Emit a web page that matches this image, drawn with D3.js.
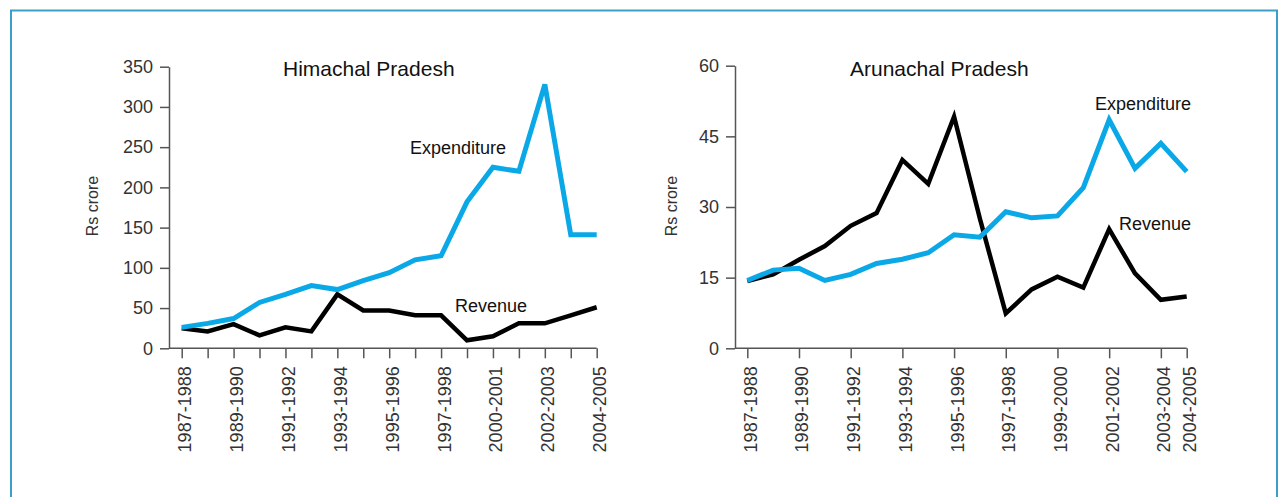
<!DOCTYPE html>
<html>
<head>
<meta charset="utf-8">
<script src="https://cdn.jsdelivr.net/npm/d3@7"></script>
<style>
  html, body { margin: 0; padding: 0; background: #fff; }
  svg { display: block; }
  text { font-family: "Liberation Sans", Arial, sans-serif; }
</style>
</head>
<body>
<svg id="chart" width="1282" height="497"></svg>
<script>
// ---------- Data ----------
const hpYears = ["1987-1988","1988-1989","1989-1990","1990-1991","1991-1992","1992-1993","1993-1994","1994-1995","1995-1996","1996-1997","1997-1998","1999-2000","2000-2001","2001-2002","2002-2003","2003-2004","2004-2005"];
const hpLabeled = ["1987-1988","1989-1990","1991-1992","1993-1994","1995-1996","1997-1998","2000-2001","2002-2003","2004-2005"];
const hpExpenditure = [26, 31, 37, 57, 67, 78, 73, 84, 94, 110, 115, 182, 225, 220, 328, 141, 141];
const hpRevenue     = [25, 21, 30, 16, 26, 21, 67, 47, 47, 41, 41, 10, 15, 31, 31, 41, 51];
const hpTicks = [0, 50, 100, 150, 200, 250, 300, 350];

const apYears = ["1987-1988","1988-1989","1989-1990","1990-1991","1991-1992","1992-1993","1993-1994","1994-1995","1995-1996","1996-1997","1997-1998","1998-1999","1999-2000","2000-2001","2001-2002","2002-2003","2003-2004","2004-2005"];
const apLabeled = ["1987-1988","1989-1990","1991-1992","1993-1994","1995-1996","1997-1998","1999-2000","2001-2002","2003-2004","2004-2005"];
const apExpenditure = [14.4, 16.6, 17.0, 14.4, 15.7, 18.0, 18.9, 20.3, 24.1, 23.6, 29.0, 27.7, 28.1, 34.1, 48.5, 38.2, 43.5, 37.5];
const apRevenue     = [14.3, 15.7, 18.8, 21.7, 26.0, 28.7, 40.0, 34.9, 49.2, 27.5, 7.4, 12.5, 15.2, 12.9, 25.3, 15.9, 10.3, 11.0];
const apTicks = [0, 15, 30, 45, 60];

const BLUE = "#0aa8e6";
const BLACK = "#000000";
const AXIS = "#555555";

const svg = d3.select("#chart");

// outer frame
svg.append("rect")
  .attr("x", 11).attr("y", 10.5)
  .attr("width", 1266).attr("height", 520)
  .attr("fill", "none").attr("stroke", "#3c9fc6").attr("stroke-width", 2);

function panel(opt) {
  const g = svg.append("g");
  const x = d3.scalePoint().domain(opt.years).range(opt.xRange);
  const y = d3.scaleLinear().domain([0, opt.yMax]).range([348.3, opt.yTop]);

  // y axis
  const ya = g.append("g")
    .attr("transform", `translate(${opt.axisX},0)`)
    .call(d3.axisLeft(y).tickValues(opt.yTicks).tickSize(9).tickPadding(7).tickSizeOuter(0));
  ya.select(".domain").attr("stroke", AXIS).attr("stroke-width", 1.5);
  ya.selectAll(".tick line").attr("stroke", AXIS).attr("stroke-width", 1.5);
  ya.selectAll(".tick text")
    .attr("fill", "#333").style("font-size", "18px").style("font-family", "Liberation Sans, Arial, sans-serif");

  // x axis
  const xa = g.append("g")
    .attr("transform", `translate(0,${y(0)})`)
    .call(d3.axisBottom(x)
      .tickValues(opt.tickAll ? opt.years : opt.labeled)
      .tickSize(10).tickSizeOuter(0)
      .tickFormat(d => opt.labeled.includes(d) ? d : ""));
  xa.select(".domain").remove();
  xa.append("line")
    .attr("x1", opt.axisX).attr("x2", opt.xRange[1])
    .attr("y1", 0).attr("y2", 0)
    .attr("stroke", AXIS).attr("stroke-width", 1.5);
  xa.selectAll(".tick line").attr("stroke", AXIS).attr("stroke-width", 1.5);
  xa.selectAll(".tick text")
    .attr("fill", "#333")
    .style("font-size", "18px").style("font-family", "Liberation Sans, Arial, sans-serif")
    .attr("transform", "rotate(-90)")
    .attr("text-anchor", "end")
    .attr("x", -18).attr("y", 0).attr("dy", "0.5em");

  // y axis title
  g.append("text")
    .attr("transform", `translate(${opt.yTitleX},206) rotate(-90)`)
    .attr("text-anchor", "middle")
    .attr("fill", "#333").style("font-size", "16px")
    .text("Rs crore");

  // lines
  const line = d3.line().x((d, i) => x(opt.years[i])).y(d => y(d)).curve(d3.curveLinear);
  g.append("path").datum(opt.revenue)
    .attr("fill", "none").attr("stroke", BLACK).attr("stroke-width", 4.5)
    .attr("stroke-linejoin", "miter").attr("stroke-miterlimit", 4)
    .attr("d", line);
  g.append("path").datum(opt.expenditure)
    .attr("fill", "none").attr("stroke", BLUE).attr("stroke-width", 5)
    .attr("stroke-linejoin", "miter").attr("stroke-miterlimit", 4)
    .attr("d", line);

  // title and labels
  g.append("text").attr("x", opt.titleX).attr("y", 76)
    .attr("fill", "#111").style("font-size", "21px").text(opt.title);
  g.append("text").attr("x", opt.expX).attr("y", opt.expY)
    .attr("fill", "#111").style("font-size", "18px").text("Expenditure");
  g.append("text").attr("x", opt.revX).attr("y", opt.revY)
    .attr("fill", "#111").style("font-size", "18px").text("Revenue");
}

panel({
  years: hpYears, labeled: hpLabeled, tickAll: true,
  expenditure: hpExpenditure, revenue: hpRevenue,
  yMax: 350, yTop: 66.7, yTicks: hpTicks,
  axisX: 169, xRange: [181.7, 596.7], yTitleX: 98,
  title: "Himachal Pradesh", titleX: 283,
  expX: 410, expY: 154, revX: 455, revY: 312
});

panel({
  years: apYears, labeled: apLabeled, tickAll: false,
  expenditure: apExpenditure, revenue: apRevenue,
  yMax: 60, yTop: 65.7, yTicks: apTicks,
  axisX: 735, xRange: [747.3, 1186.7], yTitleX: 677,
  title: "Arunachal Pradesh", titleX: 850,
  expX: 1095, expY: 110, revX: 1119, revY: 230
});
</script>
</body>
</html>
